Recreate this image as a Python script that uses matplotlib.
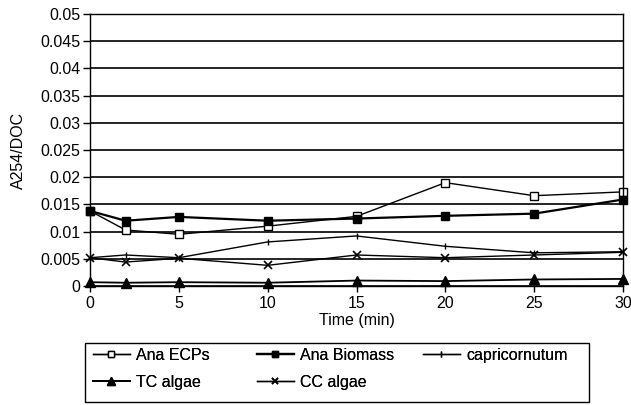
import matplotlib
matplotlib.use("Agg")
import matplotlib.pyplot as plt
from matplotlib.ticker import FuncFormatter
from matplotlib.patches import Rectangle

plt.rcParams['font.family'] = ['Liberation Sans', 'DejaVu Sans']
plt.rcParams['font.size'] = 11.5

W, H = 631, 405

# data
time_min = [0, 2, 5, 10, 15, 20, 25, 30]
ana_ecps = [0.0138, 0.0103, 0.0095, 0.0110, 0.0128, 0.0190, 0.0166, 0.0173]
ana_biomass = [0.0138, 0.0120, 0.0127, 0.0120, 0.0124, 0.0129, 0.0133, 0.0159]
capricornutum = [0.0052, 0.0057, 0.0052, 0.0081, 0.0092, 0.0073, 0.0061, 0.0063]
tc_algae = [0.0007, 0.0006, 0.0007, 0.0006, 0.0010, 0.0009, 0.0012, 0.0013]
cc_algae = [0.0052, 0.0044, 0.0051, 0.0038, 0.0057, 0.0052, 0.0057, 0.0062]

fig = plt.figure(figsize=(W/100, H/100), dpi=100)
ax = fig.add_axes([90/W, 1-286/H, 533/W, 272/H])

# horizontal grid
ax.set_yticks([i*0.005 for i in range(11)])
ax.yaxis.grid(True, color='black', linewidth=1.2)
ax.set_axisbelow(True)

l1, = ax.plot(time_min, ana_ecps, color='black', lw=1.0, marker='s', ms=6,
              mfc='white', mec='black', mew=1.0, clip_on=False, label='Ana ECPs')
l2, = ax.plot(time_min, ana_biomass, color='black', lw=1.6, marker='s', ms=6,
              clip_on=False, label='Ana Biomass')
l3, = ax.plot(time_min, capricornutum, color='black', lw=1.0, marker='|', ms=5,
              clip_on=False, label='capricornutum')
l4, = ax.plot(time_min, tc_algae, color='black', lw=1.3, marker='^', ms=7,
              clip_on=False, label='TC algae')
l5, = ax.plot(time_min, cc_algae, color='black', lw=1.0, marker='x', ms=6,
              mew=1.2, clip_on=False, label='CC algae')

ax.set_xlim(0, 30)
ax.set_ylim(0, 0.05)
ax.set_xticks([0, 5, 10, 15, 20, 25, 30])
ax.yaxis.set_major_formatter(FuncFormatter(lambda v, p: '%g' % round(v, 4)))
ax.tick_params(axis='y', direction='out', length=5, pad=2, width=1)
ax.tick_params(axis='x', direction='out', length=4, pad=3, width=1)
for s in ax.spines.values():
    s.set_linewidth(1.0)

ax.set_ylabel('A254/DOC')
ax.yaxis.set_label_coords(-0.12, 0.5)
ax.set_xlabel('Time (min)')
ax.xaxis.set_label_coords(0.5, -0.1)

# legend: box drawn by hand, three frameless columns inside
fig.patches.append(Rectangle((85/W, 1-402/H), 504/W, 59/H, transform=fig.transFigure,
                             fill=False, edgecolor='black', linewidth=1.0))
columns = [([l1, l4], 93), ([l2, l5], 257), ([l3], 423)]
for handles, x0 in columns:
    lg = fig.legend(handles=handles, loc='upper left',
                    bbox_to_anchor=(x0/W, 1-348/H), frameon=False,
                    borderpad=0, borderaxespad=0, handlelength=2.3,
                    handletextpad=0.4, labelspacing=0.75, markerscale=0.8)
    fig.add_artist(lg)

fig.savefig('out.png', dpi=100)
